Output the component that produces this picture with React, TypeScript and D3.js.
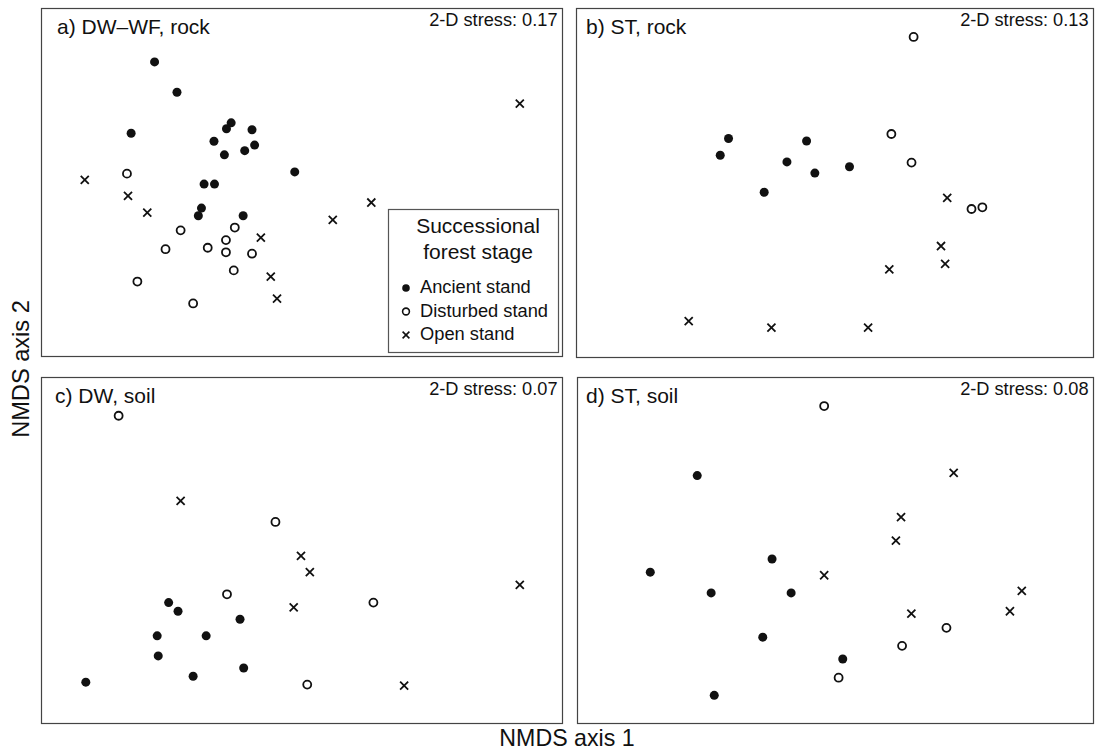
import React, {useRef, useEffect} from 'react'
import * as d3 from 'd3'

// NMDS scores (each axis rescaled to 0-100 inside its panel)
const aAncient = [[21.8,84.5],[26.1,75.8],[17.3,64.0],[36.5,67.0],[35.6,65.3],[40.5,65.0],[33.2,61.7],[41.0,60.6],
	[39.1,59.0],[35.2,57.8],[48.7,52.9],[31.3,49.4],[33.3,49.4],[30.8,42.5],[30.2,40.3],[38.8,40.3]]
const aDisturbed = [[16.5,52.4],[26.8,36.1],[37.2,36.9],[35.5,33.3],[23.9,30.7],[32.0,31.1],[35.5,29.8],[40.5,29.4],
	[37.0,24.6],[18.5,21.4],[29.2,15.1]]
const aOpen = [[91.9,72.5],[8.4,50.6],[16.7,46.0],[20.4,41.2],[63.4,44.1],[56.0,39.1],[42.2,34.0],[44.1,22.8],[45.3,16.5]]

const bAncient = [[29.5,62.6],[27.9,57.8],[44.6,61.9],[40.8,55.9],[46.2,52.7],[52.9,54.5],[36.4,47.2]]
const bDisturbed = [[65.3,91.7],[61.0,63.9],[64.9,55.7],[76.5,42.4],[78.6,42.9]]
const bOpen = [[71.8,45.6],[70.6,31.8],[71.4,26.7],[60.6,25.1],[21.8,10.3],[37.8,8.4],[56.5,8.4]]

const cAncient = [[24.5,34.8],[26.3,32.3],[38.2,30.0],[22.3,25.2],[31.7,25.2],[22.5,19.4],[38.9,15.9],[29.2,13.5],[8.6,11.8]]
const cDisturbed = [[14.9,88.8],[45.0,58.1],[35.7,37.2],[63.8,34.8],[51.1,11.1]]
const cOpen = [[26.8,64.2],[49.9,48.3],[51.6,43.6],[48.5,33.4],[91.9,39.9],[69.7,10.8]]

const dAncient = [[23.3,71.5],[14.2,43.6],[37.8,47.4],[26.0,37.6],[41.5,37.6],[36.0,24.8],[51.5,18.5],[26.6,8.0]]
const dDisturbed = [[47.9,91.6],[71.6,27.5],[63.0,22.3],[50.7,13.1]]
const dOpen = [[73.0,72.3],[62.8,59.5],[61.8,52.7],[47.9,42.7],[86.2,38.2],[83.9,32.3],[64.8,31.6]]

const panelTitles = ['a) DW\u2013WF, rock', 'b) ST, rock', 'c) DW, soil', 'd) ST, soil']
const stressValues = [0.17, 0.13, 0.07, 0.08]
const stages = ['Ancient stand', 'Disturbed stand', 'Open stand']
const legendTitle = ['Successional', 'forest stage']

const panels = [
	{ancient: aAncient, disturbed: aDisturbed, open: aOpen},
	{ancient: bAncient, disturbed: bDisturbed, open: bOpen},
	{ancient: cAncient, disturbed: cDisturbed, open: cOpen},
	{ancient: dAncient, disturbed: dDisturbed, open: dOpen},
]

export default function App() {
	const ref = useRef(null)

	const layout = {"width": 1096, "height": 752}
	const boxes = [
		{x: 41, y: 8, w: 521, h: 348, tx: 16},
		{x: 576, y: 8, w: 517, h: 349, tx: 10},
		{x: 41, y: 377, w: 521, h: 346, tx: 14},
		{x: 577, y: 377, w: 516, h: 346, tx: 9},
	]
	const font = "'Liberation Sans', Arial, Helvetica, sans-serif"
	const ink = '#111'

	useEffect(() => {
		const svg = d3.select(ref.current)
		svg.selectAll('*').remove()

		const cross = d3.symbol(d3.symbolTimes, 44)

		panels.forEach((p, i) => {
			const box = boxes[i]
			const g = svg.append('g').attr('transform', `translate(${box.x},${box.y})`)

			const x = d3.scaleLinear().domain([0, 100]).range([0, box.w])
			const y = d3.scaleLinear().domain([0, 100]).range([box.h, 0])

			g.append('rect')
				.attr('x', 0.5).attr('y', 0.5)
				.attr('width', box.w).attr('height', box.h)
				.attr('fill', 'none')
				.attr('stroke', '#444')
				.attr('stroke-width', 1.2)

			g.append('text')
				.attr('x', box.tx).attr('y', 26)
				.attr('font-size', 21)
				.attr('fill', ink)
				.text(panelTitles[i])

			g.append('text')
				.attr('x', box.w - 4.5).attr('y', 18)
				.attr('text-anchor', 'end')
				.attr('font-size', 18.2)
				.attr('fill', ink)
				.text('2-D stress: ' + stressValues[i].toFixed(2))

			g.selectAll('.ancient')
				.data(p.ancient)
				.join('circle')
				.attr('class', 'ancient')
				.attr('cx', d => x(d[0]))
				.attr('cy', d => y(d[1]))
				.attr('r', 4.5)
				.attr('fill', ink)

			g.selectAll('.disturbed')
				.data(p.disturbed)
				.join('circle')
				.attr('class', 'disturbed')
				.attr('cx', d => x(d[0]))
				.attr('cy', d => y(d[1]))
				.attr('r', 4)
				.attr('fill', 'white')
				.attr('stroke', ink)
				.attr('stroke-width', 1.8)

			g.selectAll('.open')
				.data(p.open)
				.join('path')
				.attr('class', 'open')
				.attr('transform', d => `translate(${x(d[0])},${y(d[1])})`)
				.attr('d', cross)
				.attr('fill', 'none')
				.attr('stroke', ink)
				.attr('stroke-width', 1.8)

			// legend sits in the lower right of panel a
			if (i === 0) {
				const lg = g.append('g').attr('transform', `translate(${box.w - 174},${box.h - 147})`)
				lg.append('rect')
					.attr('x', 0.5).attr('y', 0.5)
					.attr('width', 170).attr('height', 143)
					.attr('fill', 'white')
					.attr('stroke', '#555')
					.attr('stroke-width', 1.2)

				lg.selectAll('.ltitle')
					.data(legendTitle)
					.join('text')
					.attr('class', 'ltitle')
					.attr('x', 90)
					.attr('y', (d, k) => 24 + k * 26)
					.attr('text-anchor', 'middle')
					.attr('font-size', 21)
					.attr('fill', ink)
					.text(d => d)

				const rowY = d3.scalePoint().domain(stages).range([84, 131])

				lg.selectAll('.litem')
					.data(stages)
					.join('text')
					.attr('class', 'litem')
					.attr('x', 32)
					.attr('y', d => rowY(d))
					.attr('font-size', 18.3)
					.attr('fill', ink)
					.text(d => d)

				lg.append('circle')
					.attr('cx', 18).attr('cy', rowY(stages[0]) - 5)
					.attr('r', 3.8).attr('fill', ink)
				lg.append('circle')
					.attr('cx', 18).attr('cy', rowY(stages[1]) - 5)
					.attr('r', 3.4).attr('fill', 'white')
					.attr('stroke', ink).attr('stroke-width', 1.6)
				lg.append('path')
					.attr('transform', `translate(18,${rowY(stages[2]) - 5})`)
					.attr('d', d3.symbol(d3.symbolTimes, 32))
					.attr('fill', 'none')
					.attr('stroke', ink).attr('stroke-width', 1.6)
			}
		})

		svg.append('text')
			.attr('x', 567).attr('y', 746)
			.attr('text-anchor', 'middle')
			.attr('font-size', 23.2)
			.attr('fill', ink)
			.text('NMDS axis 1')

		svg.append('text')
			.attr('transform', 'translate(29,369) rotate(-90)')
			.attr('text-anchor', 'middle')
			.attr('font-size', 23.6)
			.attr('fill', ink)
			.text('NMDS axis 2')
	}, [])

	return (
		<svg width={layout.width} height={layout.height} ref={ref}
			style={{position: 'absolute', left: 0, top: 0, background: 'white', fontFamily: font}} />
	)
}
